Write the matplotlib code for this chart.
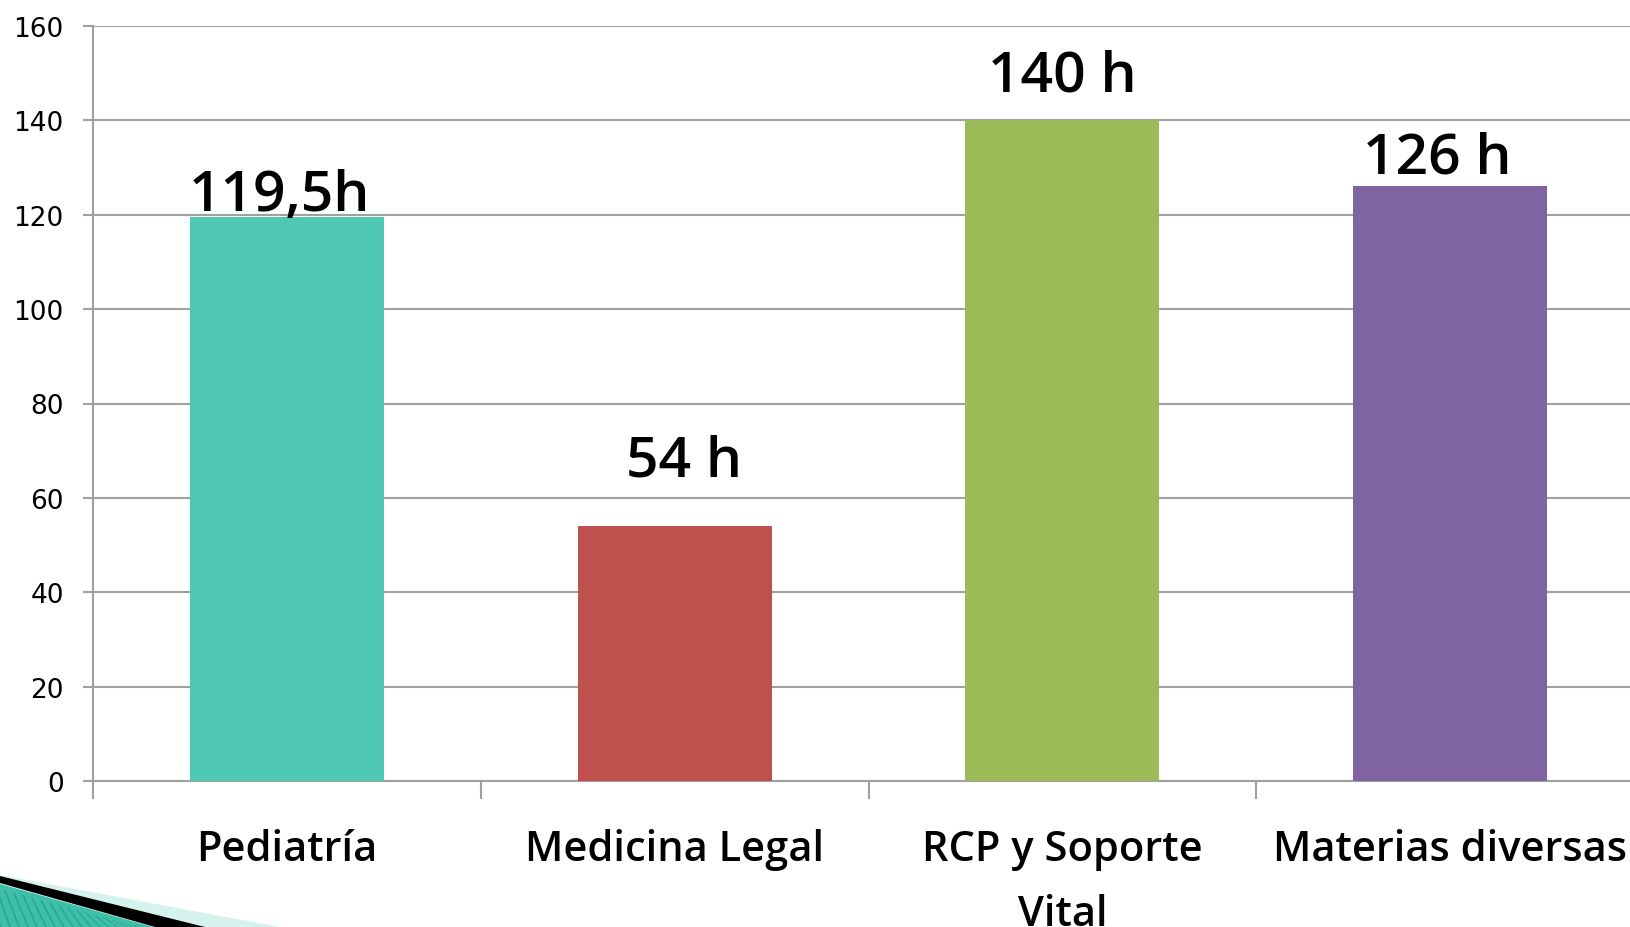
import matplotlib
matplotlib.use("Agg")
import matplotlib.pyplot as plt
from matplotlib.patches import Polygon
import numpy as np

categories = ["Pediatría", "Medicina Legal", "RCP y Soporte\nVital", "Materias diversas"]
hours = [119.5, 54, 140, 126]
value_labels = ["119,5h", "54 h", "140 h", "126 h"]
yticks = [0, 20, 40, 60, 80, 100, 120, 140, 160]

colors = ["#4FC8B4", "#C0504D", "#9BBB59", "#8064A2"]
label_dx = [-0.02, 0.023, 0.0, -0.034]
label_y = [121.0, 64.8, 146.3, 128.9]

W, H = 1630, 928
fig = plt.figure(figsize=(W / 100, H / 100), dpi=100)
left, right, bottom, top = 93, 1644, 782, 27
ax = fig.add_axes([left / W, 1 - bottom / H, (right - left) / W, (bottom - top) / H])

x = np.arange(len(categories))
ax.bar(x, hours, width=0.5, color=colors, zorder=3)
ax.set_xlim(-0.5, len(categories) - 0.5)
ax.set_ylim(0, 160)

grid_c = "#A0A0A0"
ax.set_yticks(yticks)
ax.set_yticklabels([str(t) for t in yticks], fontsize=19, family="DejaVu Sans")
ax.yaxis.grid(True, color=grid_c, linewidth=1.5, zorder=1)
ax.tick_params(axis="y", length=7, width=1.5, color=grid_c, pad=14)

ax.set_xticks(x)
ax.set_xticklabels(categories, fontsize=30, family="Open Sans", fontweight="semibold",
                   linespacing=1.7)
ax.tick_params(axis="x", length=0, pad=34)
ax.set_xticks(np.arange(len(categories)) - 0.5, minor=True)
ax.tick_params(axis="x", which="minor", length=13, width=1.5, color=grid_c)

for s in ["top", "right"]:
    ax.spines[s].set_visible(False)
ax.spines["left"].set_color(grid_c)
ax.spines["left"].set_linewidth(1.5)
ax.spines["bottom"].set_color(grid_c)
ax.spines["bottom"].set_linewidth(1.5)

for i, (lab, ly) in enumerate(zip(value_labels, label_y)):
    ax.text(x[i] + label_dx[i], ly, lab, ha="center", va="baseline", fontsize=41,
            family="Open Sans", fontweight="semibold", zorder=4)

# bottom-left template decoration
def poly(pts, color, z=0):
    p = Polygon([(px / W, 1 - py / H) for px, py in pts], closed=True,
                transform=fig.transFigure, facecolor=color, edgecolor="none", zorder=z)
    fig.patches.append(p)

poly([(0, 876), (280, 928), (0, 928)], "#D6F2EC")
poly([(0, 885), (153, 928), (0, 928)], "#3DBFA8")
for k in range(0, 160, 9):
    poly([(k, 928), (k + 2, 928), (k + 2 - 14, 886 + (k * 0.28)), (k - 14, 886 + (k * 0.28))],
         "#2FA892", z=1)
poly([(0, 877), (205, 928), (155, 928), (0, 884)], "#000000", z=2)

fig.savefig("out.png", dpi=100)
